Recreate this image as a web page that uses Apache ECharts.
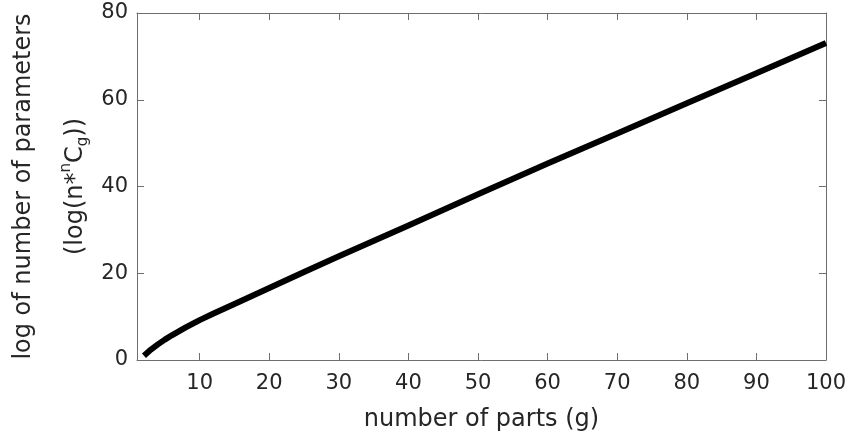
<!DOCTYPE html>
<html>
<head>
<meta charset="utf-8">
<script src="https://cdn.jsdelivr.net/npm/echarts@6.0.0/dist/echarts.min.js"></script>
<style>
  html, body { margin: 0; padding: 0; background: #fff; }
  #chart { width: 850px; height: 437px; }
</style>
</head>
<body>
<div id="chart"></div>
<script>
// number of parts g
const partCounts = [2, 3, 4, 5, 6, 7, 8, 10, 12, 15, 20, 25, 30, 40, 50, 60, 70, 80, 90, 100]
// log of number of parameters at each g
const logParams = [1.0, 2.4, 3.6, 4.7, 5.7, 6.6, 7.5, 9.2, 10.7, 12.9, 16.6, 20.3, 23.9, 31.0, 38.2, 45.3, 52.2, 59.2, 66.1, 73.1]
const yTicks = [0, 20, 40, 60, 80]

const font = 'DejaVu Sans'
const textColor = '#262626'
const boxColor = '#6e6e6e'

const chart = echarts.init(document.getElementById('chart'))

const boxLine = { show: true, onZero: false, lineStyle: { color: boxColor, width: 1 } }
const tick = { show: true, inside: true, length: 7, lineStyle: { color: boxColor, width: 1 } }

chart.setOption({
  animation: false,
  grid: { left: 137, right: 24, top: 13, bottom: 77, outerBoundsMode: 'none', containLabel: false },
  xAxis: [
    {
      type: 'value',
      min: 1,
      max: 100,
      minInterval: 10,
      maxInterval: 10,
      position: 'bottom',
      axisLine: boxLine,
      axisTick: tick,
      splitLine: { show: false },
      axisLabel: {
        showMinLabel: false,
        margin: 13,
        fontFamily: font,
        fontSize: 21,
        color: textColor,
      },
      name: 'number of parts (g)',
      nameLocation: 'middle',
      nameGap: 48,
      nameMoveOverlap: false,
      nameTextStyle: { fontFamily: font, fontSize: 24, color: textColor },
    },
    {
      type: 'value',
      min: 1,
      max: 100,
      minInterval: 10,
      maxInterval: 10,
      position: 'top',
      axisLine: boxLine,
      axisTick: tick,
      splitLine: { show: false },
      axisLabel: { show: false },
    },
  ],
  yAxis: [
    {
      type: 'value',
      min: yTicks[0],
      max: yTicks[yTicks.length - 1],
      interval: 20,
      position: 'left',
      axisLine: boxLine,
      axisTick: tick,
      splitLine: { show: false },
      axisLabel: { margin: 9, fontFamily: font, fontSize: 21, color: textColor },
      name: 'log of number of parameters\n(log(n*{sup|n}C{sub|g}))',
      nameLocation: 'middle',
      nameGap: 35,
      nameMoveOverlap: false,
      nameTextStyle: {
        fontFamily: font,
        fontSize: 24,
        color: textColor,
        lineHeight: 52,
        rich: {
          sup: { fontFamily: font, fontSize: 15, color: textColor, padding: [0, 0, 20, 0] },
          sub: { fontFamily: font, fontSize: 15, color: textColor, padding: [14, 0, 0, 0] },
        },
      },
    },
    {
      type: 'value',
      min: yTicks[0],
      max: yTicks[yTicks.length - 1],
      interval: 20,
      position: 'right',
      axisLine: boxLine,
      axisTick: tick,
      splitLine: { show: false },
      axisLabel: { show: false },
    },
  ],
  series: [
    {
      type: 'line',
      xAxisIndex: 0,
      yAxisIndex: 0,
      data: partCounts.map((g, i) => [g, logParams[i]]),
      showSymbol: false,
      lineStyle: { color: '#000', width: 6, join: 'round' },
    },
  ],
})
</script>
</body>
</html>
